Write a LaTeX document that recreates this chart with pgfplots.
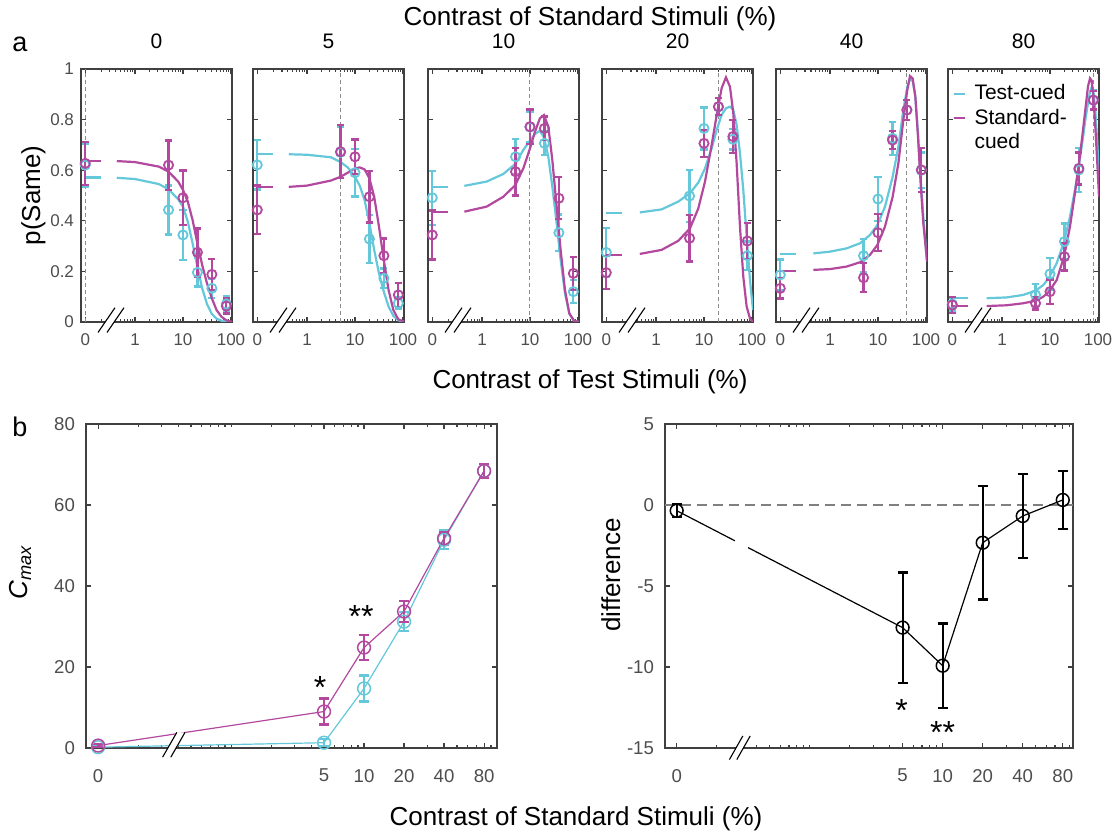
\documentclass[border=0pt]{standalone}
\usepackage{fontspec}
\setmainfont{Liberation Sans}
\usepackage{pgfplots}
\pgfplotsset{compat=1.18}
\pgfplotsset{legend image code/.code={\draw[#1, line width=1.3pt] (0pt,0pt) -- (5.5pt,0pt);}}
\pgfplotsset{/pgfplots/error bars/every error bar/.style={line width=1.15pt}}
\definecolor{cCyan}{HTML}{64C8DA}
\definecolor{cMag}{HTML}{B3489F}
\definecolor{axGray}{HTML}{404040}
\definecolor{lblGray}{HTML}{4D4D4D}
\definecolor{dashGray}{HTML}{8C8C8C}
\newcommand{\tickfont}{\fontsize{8.5}{10}\selectfont}
\newcommand{\botfont}{\fontsize{9.3}{11}\selectfont}
\newcommand{\bigfont}{\fontsize{13}{15}\selectfont}
\newcommand{\starfont}{\fontsize{16}{18}\selectfont}
\newcommand{\legfont}{\fontsize{10.5}{12}\selectfont}
% break mark: x, y of first slash bottom, gap, run, rise
\newcommand{\brkmark}[5]{%
  \fill[white] (#1,#2) -- ++(#3,0) -- ++(#4,#5) -- ++(-#3,0) -- cycle;
  \draw[line width=0.55pt] (#1,#2) -- ++(#4,#5);
  \draw[line width=0.55pt] (#1+#3,#2) -- ++(#4,#5);}
% top panel axis: position, title, extra options
\newcommand{\toppanel}[3]{\begin{axis}[scale only axis, anchor=south west,
    at={#1}, title={#2}, width=75.5pt, height=126.5pt,
    xmode=log, xmin=0.075, xmax=105, ymin=0, ymax=1,
    axis line style={axGray, line width=0.75pt},
    tick style={axGray, line width=0.6pt},
    tick align=inside, xtick pos=both, ytick pos=both,
    major tick length=2.6pt, minor tick length=1.5pt,
    xtick={0.092,1,10,100}, xticklabels={0,1,10,100},
    minor xtick={0.2,0.3,0.4,0.5,0.6,0.7,0.8,0.9,2,3,4,5,6,7,8,9,20,30,40,50,60,70,80,90},
    ytick={0,0.2,0.4,0.6,0.8,1},
    yticklabel={\pgfmathprintnumber[assume math mode=true]{\tick}},
    tick label style={font=\tickfont, text=lblGray},
    xticklabel style={yshift=-2.5pt},
    title style={font=\fontsize{10.5}{12}\selectfont, at={(0.5,1)}, anchor=base, yshift=4pt, inner sep=0pt},
    #3]}
% bottom panel axis
\newcommand{\botpanel}[2]{\begin{axis}[scale only axis, anchor=south west,
    height=162pt, xmode=log,
    axis line style={axGray, line width=0.75pt},
    tick style={axGray, line width=0.6pt},
    tick align=inside, xtick pos=both, ytick pos=both,
    major tick length=2.6pt, minor tick length=1.5pt,
    xtick={0.1,5,10,20,40,80}, xticklabels={0,5,10,20,40,80},
    minor xtick={0.2,0.3,0.4,0.5,0.6,0.7,0.8,0.9,1,2,3,4,6,7,8,9,30,50,60,70,90},
    yticklabel={\pgfmathprintnumber[assume math mode=true]{\tick}},
    tick label style={font=\botfont, text=lblGray},
    xticklabel style={yshift=-7pt}, yticklabel style={xshift=-2pt},
    at={#1}, #2]}
% fitted curve, data points with error bars
\newcommand{\fitc}[2]{\addplot[#1, line width=1.1pt] coordinates {#2};}
\newcommand{\pts}[2]{\addplot[#1, only marks, line width=1.1pt, mark=o, mark size=2.3pt, mark options={line width=0.9pt},
    error bars/.cd, y dir=both, y explicit, error bar style={line width=1.15pt},
    error mark options={rotate=90, mark size=1.8pt, line width=1.15pt}] coordinates {#2};}
\newcommand{\bpts}[2]{\addplot[#1, only marks, line width=1.1pt, mark=o, mark size=3.2pt, mark options={line width=0.75pt},
    error bars/.cd, y dir=both, y explicit, error bar style={line width=1.1pt},
    error mark options={rotate=90, mark size=2.5pt, line width=1.1pt}] coordinates {#2};}
\newcommand{\vl}[1]{\addplot[dashGray, line width=0.5pt, dash pattern=on 2pt off 1.5pt] coordinates {(#1,0) (#1,1)};}

\begin{document}
\begin{tikzpicture}
\useasboundingbox (0,0) rectangle (560pt,416.5pt);

% ---------- panel a, standard 0 ----------
\toppanel{(40.5pt,255.5pt)}{0}{}
\vl{0.092}
\fitc{cCyan}{(0.092,0.571) (0.2,0.571)}
\fitc{cCyan}{(0.417,0.570) (1,0.565) (3.162,0.545) (5.012,0.524) (7.943,0.485) (10,0.456) (12.59,0.397) (15.85,0.311) (19.95,0.219) (25.12,0.133) (31.62,0.071) (39.81,0.032) (50.12,0.013) (63.1,0.005) (79.43,0.001) (104.7,0)}
\pts{cCyan}{(0.092,0.62) +- (0,0.085) (5,0.443) +- (0,0.097) (10,0.344) +- (0,0.10) (20,0.196) +- (0,0.056) (40,0.133) +- (0,0.038) (80,0.071) +- (0,0.03)}
\fitc{cMag}{(0.092,0.637) (0.2,0.637)}
\fitc{cMag}{(0.417,0.636) (1,0.632) (3.162,0.614) (5.012,0.594) (7.943,0.555) (10,0.522) (12.59,0.476) (15.85,0.403) (19.95,0.311) (25.12,0.225) (31.62,0.153) (39.81,0.094) (50.12,0.047) (63.1,0.021) (79.43,0.007) (104.7,0)}
\pts{cMag}{(0.092,0.627) +- (0,0.085) (5,0.62) +- (0,0.097) (10,0.491) +- (0,0.108) (20,0.275) +- (0,0.095) (40,0.188) +- (0,0.061) (80,0.063) +- (0,0.03)}
\end{axis}
\brkmark{49pt}{250.25pt}{4.5pt}{8.5pt}{12.4pt}

% ---------- standard 5 ----------
\toppanel{(126.5pt,255.5pt)}{5}{yticklabels={}}
\vl{5}
\fitc{cCyan}{(0.092,0.663) (0.2,0.663)}
\fitc{cCyan}{(0.417,0.663) (1,0.661) (3.162,0.651) (5.012,0.632) (7.079,0.611) (10,0.574) (12.59,0.538) (15.85,0.482) (19.95,0.39) (25.12,0.285) (31.62,0.192) (39.81,0.12) (50.12,0.061) (63.1,0.024) (79.43,0.007) (104.7,0.001)}
\pts{cCyan}{(0.092,0.621) +- (0,0.097) (5,0.67) +- (0,0.1) (10,0.59) +- (0,0.094) (20,0.328) +- (0,0.096) (40,0.173) +- (0,0.038) (80,0.074) +- (0,0.023)}
\fitc{cMag}{(0.092,0.532) (0.2,0.532)}
\fitc{cMag}{(0.417,0.534) (1,0.539) (3.162,0.559) (5.012,0.574) (7.079,0.59) (10,0.607) (12.59,0.611) (15.85,0.603) (19.95,0.568) (25.12,0.495) (31.62,0.377) (39.81,0.245) (50.12,0.126) (63.1,0.047) (79.43,0.011) (104.7,0.001)}
\pts{cMag}{(0.092,0.443) +- (0,0.096) (5,0.673) +- (0,0.105) (10,0.653) +- (0,0.068) (20,0.495) +- (0,0.102) (40,0.262) +- (0,0.068) (80,0.107) +- (0,0.047)}
\end{axis}
\brkmark{135pt}{250.25pt}{4.5pt}{8.5pt}{12.4pt}

% ---------- standard 10 ----------
\toppanel{(214pt,255.5pt)}{10}{yticklabels={}}
\vl{10}
\fitc{cCyan}{(0.092,0.535) (0.2,0.535)}
\fitc{cCyan}{(0.429,0.538) (1.25,0.555) (2.78,0.585) (4.94,0.625) (7.26,0.68) (10,0.717) (12.7,0.743) (16.1,0.756) (19.5,0.73) (24.1,0.653) (29.2,0.535) (35.9,0.39) (43.5,0.245) (53.6,0.113) (65.9,0.034) (82.4,0.005) (103,0)}
\pts{cCyan}{(0.092,0.491) +- (0,0.107) (5,0.653) +- (0,0.07) (10,0.77) +- (0,0.06) (20,0.706) +- (0,0.047) (40,0.353) +- (0,0.072) (80,0.12) +- (0,0.045)}
\fitc{cMag}{(0.092,0.434) (0.2,0.434)}
\fitc{cMag}{(0.429,0.436) (1.25,0.456) (2.78,0.495) (4.94,0.541) (7.26,0.607) (10,0.686) (12.7,0.752) (16.1,0.805) (19.5,0.818) (24.1,0.772) (29.2,0.64) (35.9,0.456) (43.5,0.285) (53.6,0.126) (65.9,0.034) (82.4,0.005) (103,0)}
\pts{cMag}{(0.092,0.344) +- (0,0.097) (5,0.594) +- (0,0.094) (10,0.772) +- (0,0.068) (20,0.765) +- (0,0.047) (40,0.489) +- (0,0.083) (80,0.192) +- (0,0.065)}
\end{axis}
\brkmark{222.5pt}{250.25pt}{4.5pt}{8.5pt}{12.4pt}

% ---------- standard 20 ----------
\toppanel{(301pt,255.5pt)}{20}{yticklabels={}}
\vl{20}
\fitc{cCyan}{(0.092,0.432) (0.2,0.432)}
\fitc{cCyan}{(0.46,0.433) (1.31,0.445) (2.92,0.476) (5.11,0.509) (7.62,0.551) (10.5,0.607) (14.45,0.686) (18.4,0.759) (23.3,0.818) (28.7,0.845) (34.8,0.851) (40.8,0.838) (47.9,0.779) (56.2,0.667) (65.9,0.522) (77.4,0.337) (90.8,0.166) (105,0.047)}
\pts{cCyan}{(0.092,0.275) +- (0,0.097) (5,0.498) +- (0,0.104) (10,0.765) +- (0,0.083) (20,0.85) +- (0,0.034) (40,0.722) +- (0,0.04) (80,0.262) +- (0,0.056)}
\fitc{cMag}{(0.092,0.265) (0.2,0.265)}
\fitc{cMag}{(0.46,0.269) (1.31,0.285) (2.92,0.321) (5.11,0.37) (7.62,0.449) (10.5,0.555) (14.45,0.7) (18.4,0.818) (23.3,0.924) (28.7,0.967) (34.8,0.93) (40.8,0.825) (47.9,0.627) (56.2,0.377) (65.9,0.179) (77.4,0.061) (90.8,0.014) (105,0.001)}
\pts{cMag}{(0.092,0.195) +- (0,0.065) (5,0.331) +- (0,0.092) (10,0.706) +- (0,0.053) (20,0.851) +- (0,0.034) (40,0.733) +- (0,0.065) (80,0.32) +- (0,0.07)}
\end{axis}
\brkmark{309.5pt}{250.25pt}{4.5pt}{8.5pt}{12.4pt}

% ---------- standard 40 ----------
\toppanel{(388pt,255.5pt)}{40}{yticklabels={}}
\vl{40}
\fitc{cCyan}{(0.092,0.269) (0.2,0.269)}
\fitc{cCyan}{(0.45,0.271) (1,0.278) (2.22,0.291) (4.22,0.311) (6.81,0.344) (9.68,0.383) (14,0.456) (20.2,0.574) (26.6,0.693) (33.7,0.838) (40.8,0.93) (46.4,0.959) (52.7,0.954) (60,0.891) (68.1,0.746) (77.4,0.574) (88,0.416) (100,0.285) (105,0.24)}
\pts{cCyan}{(0.092,0.186) +- (0,0.061) (5,0.262) +- (0,0.066) (10,0.486) +- (0,0.088) (20,0.726) +- (0,0.065) (40,0.838) +- (0,0.04) (80,0.6) +- (0,0.07)}
\fitc{cMag}{(0.092,0.203) (0.2,0.203)}
\fitc{cMag}{(0.45,0.206) (1,0.209) (2.22,0.219) (4.22,0.236) (6.81,0.265) (9.68,0.304) (14,0.377) (20.2,0.495) (26.6,0.627) (33.7,0.798) (40.8,0.917) (46.4,0.972) (52.7,0.963) (60,0.891) (68.1,0.733) (77.4,0.548) (88,0.39) (100,0.285) (105,0.24)}
\pts{cMag}{(0.092,0.133) +- (0,0.04) (5,0.175) +- (0,0.057) (10,0.353) +- (0,0.073) (20,0.719) +- (0,0.036) (40,0.838) +- (0,0.039) (80,0.601) +- (0,0.086)}
\end{axis}
\brkmark{396.5pt}{250.25pt}{4.5pt}{8.5pt}{12.4pt}

% ---------- standard 80 ----------
\toppanel{(474pt,255.5pt)}{80}{yticklabels={}, legend cell align=left,
    legend style={at={(0.03,0.955)}, anchor=north west, draw=none, fill=none,
      font=\legfont, inner sep=0pt, row sep=-1pt, column sep=2pt}}
\addlegendimage{cCyan}
\addlegendimage{cMag}
\addlegendimage{empty legend}
\addlegendentry{Test-cued}
\addlegendentry{Standard-}
\addlegendentry{cued}
\vl{80}
\fitc{cCyan}{(0.092,0.094) (0.2,0.094)}
\fitc{cCyan}{(0.48,0.094) (1.25,0.097) (2.78,0.107) (5.02,0.124) (7.26,0.146) (9.53,0.175) (13.8,0.232) (19.6,0.318) (26.1,0.416) (33.1,0.522) (40.2,0.621) (47.9,0.719) (54.4,0.798) (61.8,0.864) (68.1,0.91) (73.8,0.928) (79.9,0.917) (87.9,0.838) (96.8,0.706) (105,0.574)}
\pts{cCyan}{(0.092,0.071) +- (0,0.026) (5,0.107) +- (0,0.043) (10,0.19) +- (0,0.064) (20,0.318) +- (0,0.071) (40,0.601) +- (0,0.086) (80,0.877) +- (0,0.04)}
\fitc{cMag}{(0.092,0.063) (0.2,0.063)}
\fitc{cMag}{(0.48,0.063) (1.25,0.066) (2.78,0.074) (5.02,0.084) (7.26,0.1) (9.53,0.12) (13.8,0.166) (19.6,0.258) (26.1,0.377) (33.1,0.509) (40.2,0.627) (47.9,0.746) (54.4,0.838) (61.8,0.93) (68.1,0.963) (73.8,0.954) (79.9,0.891) (87.9,0.772) (96.8,0.627) (105,0.495)}
\pts{cMag}{(0.092,0.067) +- (0,0.032) (5,0.074) +- (0,0.025) (10,0.12) +- (0,0.048) (20,0.258) +- (0,0.054) (40,0.607) +- (0,0.063) (80,0.877) +- (0,0.037)}
\end{axis}
\brkmark{482.5pt}{250.25pt}{4.5pt}{8.5pt}{12.4pt}

% ---------- panel b left: Cmax ----------
\botpanel{(43pt,42.5pt)}{width=205.5pt, xmin=0.081, xmax=100, ymin=0, ymax=80, ytick={0,20,40,60,80}}
\addplot[cCyan, line width=0.6pt] coordinates {(0.1,0.2) (5,1.3) (10,14.7) (20,31.2) (40,51.4) (80,68.4)};
\bpts{cCyan}{(0.1,0.2) +- (0,0.3) (5,1.3) +- (0,0.9) (10,14.7) +- (0,3.2) (20,31.2) +- (0,2.4) (40,51.4) +- (0,2.3) (80,68.4) +- (0,1.7)}
\addplot[cMag, line width=0.6pt] coordinates {(0.1,0.6) (5,9.0) (10,24.8) (20,33.7) (40,51.8) (80,68.4)};
\bpts{cMag}{(0.1,0.6) +- (0,0.4) (5,9.0) +- (0,3.2) (10,24.8) +- (0,3.0) (20,33.7) +- (0,2.6) (40,51.8) +- (0,1.6) (80,68.4) +- (0,1.7)}
\node[font=\starfont, anchor=base] at (axis cs:4.67,12.2) {*};
\node[font=\starfont, anchor=base] at (axis cs:9.5,29.7) {**};
\end{axis}
\brkmark{81.3pt}{37.9pt}{4.1pt}{7.1pt}{12.4pt}

% ---------- panel b right: difference ----------
\botpanel{(332.5pt,42.5pt)}{width=204pt, xmin=0.0817, xmax=95.5, ymin=-15, ymax=5, ytick={-15,-10,-5,0,5}}
\addplot[gray, line width=0.7pt, dash pattern=on 5pt off 3pt] coordinates {(0.0817,0) (95.5,0)};
\addplot[black, line width=0.6pt] coordinates {(0.1,-0.35) (0.274,-2.21)};
\addplot[black, line width=0.6pt] coordinates {(0.344,-2.63) (5,-7.57) (10,-9.92) (20,-2.33) (40,-0.68) (80,0.31)};
\bpts{black}{(0.1,-0.35) +- (0,0.4) (5,-7.57) +- (0,3.4) (10,-9.92) +- (0,2.6) (20,-2.33) +- (0,3.5) (40,-0.68) +- (0,2.6) (80,0.31) +- (0,1.8)}
\node[font=\starfont, anchor=base] at (axis cs:4.92,-13.39) {*};
\node[font=\starfont, anchor=base] at (axis cs:10,-14.73) {**};
\end{axis}
\brkmark{364.7pt}{36.7pt}{3.7pt}{6.7pt}{11.8pt}

% ---------- titles and labels ----------
\node[font=\bigfont, anchor=base] at (295pt,403.5pt) {Contrast of Standard Stimuli (\%)};
\node[font=\fontsize{13.5}{15}\selectfont, anchor=base] at (10pt,390.5pt) {a};
\node[font=\bigfont, anchor=base] at (295pt,222pt) {Contrast of Test Stimuli (\%)};
\node[font=\fontsize{13.5}{15}\selectfont, anchor=base] at (10pt,198pt) {b};
\node[font=\bigfont, anchor=base] at (288pt,3.5pt) {Contrast of Standard Stimuli (\%)};
\node[font=\bigfont, anchor=base, rotate=90] at (20pt,318.75pt) {p(Same)};
\node[font=\bigfont, anchor=base, rotate=90] at (13.75pt,130.5pt) {\itshape C\textsubscript{max}};
\node[font=\bigfont, anchor=base, rotate=90] at (310pt,129pt) {difference};
\end{tikzpicture}
\end{document}
